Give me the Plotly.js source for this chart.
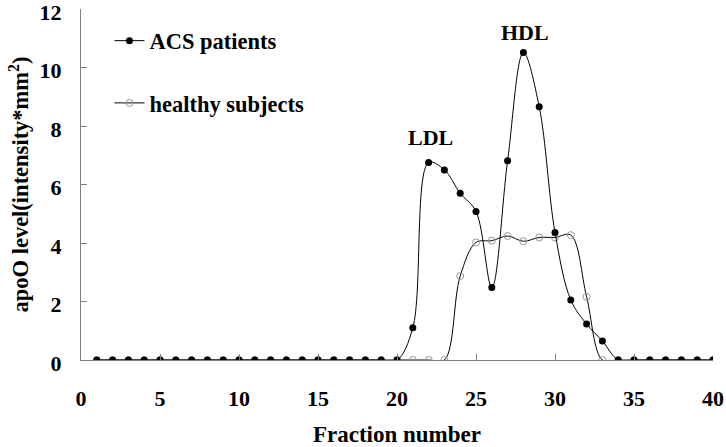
<!DOCTYPE html>
<html>
<head>
<meta charset="utf-8">
<script src="https://cdn.plot.ly/plotly-3.0.1.min.js"></script>
<style>html,body{margin:0;padding:0;background:#fff;}#chart{width:726px;height:447px;}</style>
</head>
<body>
<div id="chart"></div>
<script>
const fractions = [1,2,3,4,5,6,7,8,9,10,11,12,13,14,15,16,17,18,19,20,21,22,23,24,25,26,27,28,29,30,31,32,33,34,35,36,37,38,39,40];
const acsPatients = [0,0,0,0,0,0,0,0,0,0,0,0,0,0,0,0,0,0,0,0,1.10,6.75,6.50,5.70,5.08,2.48,6.81,10.51,8.66,4.36,2.05,1.23,0.65,0,0,0,0,0,0,0];
const healthySubjects = [0,0,0,0,0,0,0,0,0,0,0,0,0,0,0,0,0,0,0,0,0,0,0,2.87,4.02,4.08,4.24,4.06,4.19,4.19,4.27,2.16,0,0,0,0,0,0,0,0];
const seriesNames = ["ACS patients", "healthy subjects"];
const peakLabels = ["LDL", "HDL"];
const peakX = [22.1, 28.1];
const peakY = [7.6, 11.2];
const xTicks = [0,5,10,15,20,25,30,35,40];
const yTicks = [0,2,4,6,8,10,12];

const FONT = "Liberation Serif, Times New Roman, serif";

const traces = [
  {
    x: fractions, y: healthySubjects, name: seriesNames[1],
    type: "scatter", mode: "lines+markers",
    line: {shape: "spline", smoothing: 1, color: "#000", width: 1},
    marker: {symbol: "circle-open", size: 7, color: "#999", line: {width: 1, color: "#999"}},
    legendrank: 2, legendgroup: "b"
  },
  {
    x: fractions, y: acsPatients, name: seriesNames[0],
    type: "scatter", mode: "lines+markers",
    line: {shape: "spline", smoothing: 1, color: "#000", width: 1},
    marker: {symbol: "circle", size: 7, color: "#000"},
    legendrank: 1, legendgroup: "a"
  }
];

const annotations = peakLabels.map((t, i) => ({
  x: peakX[i], y: peakY[i], xref: "x", yref: "y", text: "<b>" + t + "</b>",
  showarrow: false, font: {family: FONT, size: 22, color: "#000"}
}));

const layout = {
  width: 726, height: 447,
  margin: {l: 81, r: 13, t: 9, b: 87},
  paper_bgcolor: "#fff", plot_bgcolor: "#fff",
  font: {family: FONT, color: "#000"},
  showlegend: true,
  legend: {
    x: 0.045, y: 0.97, xanchor: "left", yanchor: "top",
    bgcolor: "rgba(0,0,0,0)", borderwidth: 0,
    font: {family: FONT, size: 22.5, color: "#000", weight: "bold"},
    traceorder: "grouped", tracegroupgap: 30, itemwidth: 30
  },
  xaxis: {
    range: [0, 40], tickvals: xTicks, ticktext: xTicks.map(String),
    ticks: "inside", ticklen: 6, tickcolor: "#808080", tickwidth: 1,
    showline: true, linecolor: "#808080", linewidth: 1,
    showgrid: false, zeroline: false,
    ticklabelstandoff: 19, ticklabeloverflow: "allow",
    tickfont: {family: FONT, size: 22, color: "#000", weight: "bold"},
    title: {text: "<b>Fraction number</b>", font: {family: FONT, size: 23, color: "#000"}, standoff: 17}
  },
  yaxis: {
    range: [0, 12], tickvals: yTicks, ticktext: yTicks.map(String),
    ticks: "inside", ticklen: 6, tickcolor: "#808080", tickwidth: 1,
    showline: true, linecolor: "#808080", linewidth: 1,
    showgrid: false, zeroline: false,
    ticklabelstandoff: 14, ticklabeloverflow: "allow", ticklabelshift: 3,
    tickfont: {family: FONT, size: 22, color: "#000", weight: "bold"},
    title: {text: "<b>apoO level(intensity*mm<sup>2</sup>)</b>", font: {family: FONT, size: 22.5, color: "#000"}, standoff: 4}
  },
  annotations: annotations
};

Plotly.newPlot("chart", traces, layout, {displayModeBar: false, staticPlot: true});
</script>
</body>
</html>
